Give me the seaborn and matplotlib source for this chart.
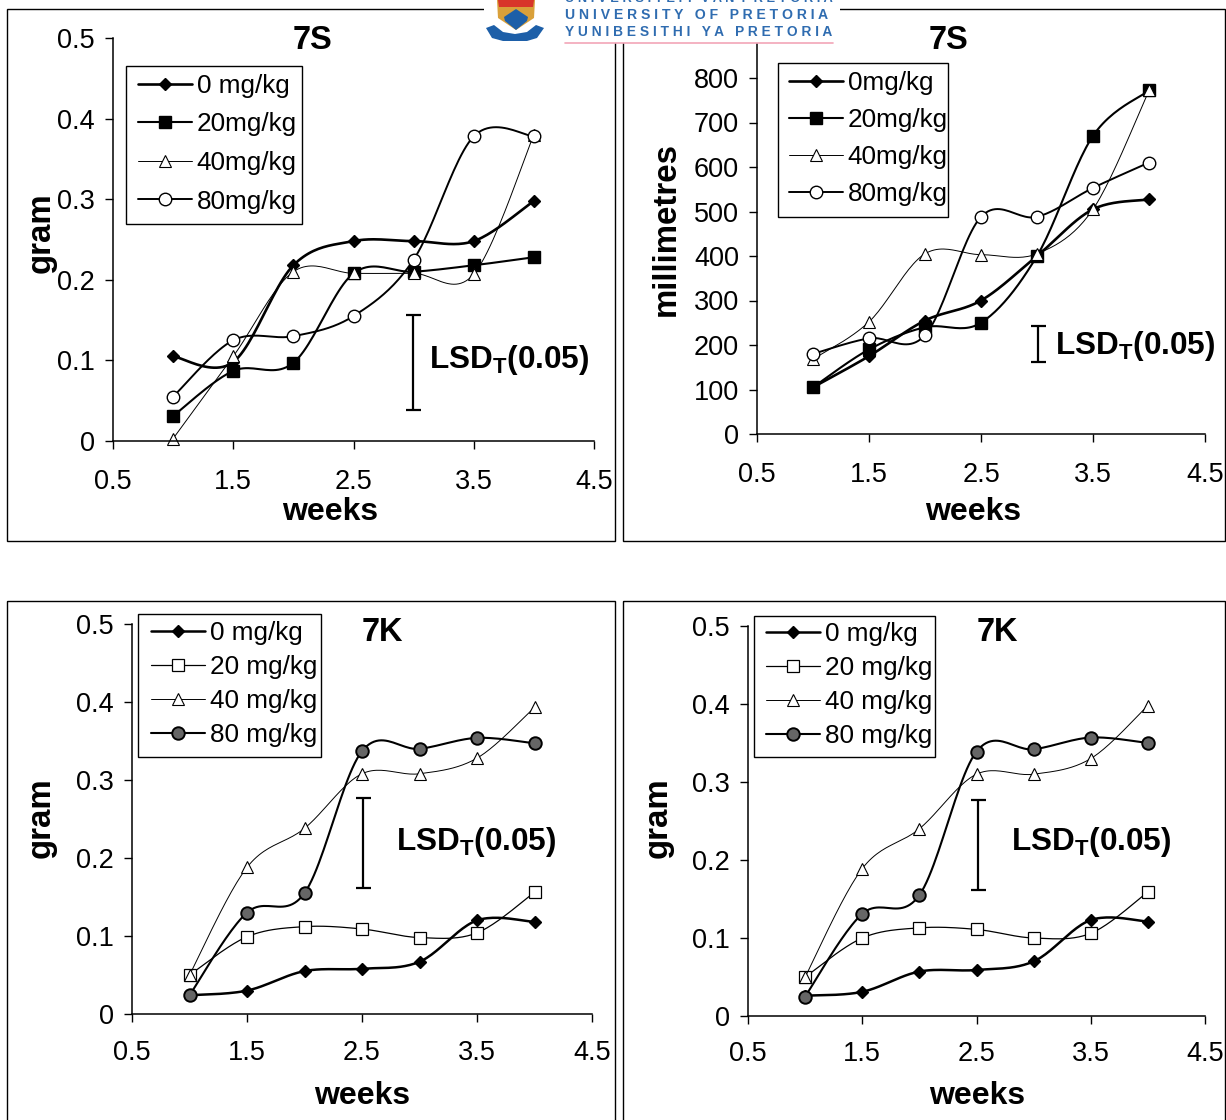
import numpy as np
import pandas as pd
import matplotlib
matplotlib.use("Agg")
import matplotlib.pyplot as plt
from matplotlib.lines import Line2D
from matplotlib.patches import Rectangle, Polygon
import seaborn as sns

weeks = [1, 1.5, 2, 2.5, 3, 3.5, 4]

a_0 = [.105, .098, .218, .248, .248, .248, .298]
a_20 = [.031, .087, .097, .208, .21, .218, .228]
a_40 = [.003, .105, .21, .208, .208, .207, .38]
a_80 = [.055, .125, .13, .155, .225, .378, .378]

b_0 = [105, 175, 255, 300, 400, 505, 527]
b_20 = [105, 190, 240, 250, 400, 670, 772]
b_40 = [168, 252, 405, 403, 405, 505, 772]
b_80 = [180, 215, 222, 488, 488, 553, 610]

c_0 = [.024, .03, .055, .058, .067, .12, .118]
c_20 = [.05, .099, .112, .109, .098, .104, .156]
c_40 = [.05, .188, .238, .308, .308, .328, .393]
c_80 = [.024, .13, .155, .337, .34, .354, .347]

d_0 = [.026, .031, .057, .059, .07, .123, .121]
d_20 = [.05, .1, .113, .111, .1, .106, .159]
d_40 = [.05, .189, .24, .31, .31, .33, .398]
d_80 = [.025, .131, .155, .339, .342, .357, .35]

labels_a = ["0 mg/kg", "20mg/kg", "40mg/kg", "80mg/kg"]
labels_b = ["0mg/kg", "20mg/kg", "40mg/kg", "80mg/kg"]
labels_c = ["0 mg/kg", "20 mg/kg", "40 mg/kg", "80 mg/kg"]

xticks = [0.5, 1.5, 2.5, 3.5, 4.5]
yticks_g = [0, 0.1, 0.2, 0.3, 0.4, 0.5]
yticks_mm = [0, 100, 200, 300, 400, 500, 600, 700, 800]

W, H = 1226, 1120
sns.set_style("white")
plt.rcParams["font.family"] = ["Liberation Sans", "DejaVu Sans"]
plt.rcParams["mathtext.fontset"] = "custom"
plt.rcParams["mathtext.bf"] = "Liberation Sans:bold"
plt.rcParams["mathtext.rm"] = "Liberation Sans"

fig = plt.figure(figsize=(W / 100, H / 100), dpi=100, facecolor="white")
bg = fig.add_axes([0, 0, 1, 1], zorder=0)
bg.set_xlim(0, W)
bg.set_ylim(H, 0)
bg.axis("off")
top = fig.add_axes([0, 0, 1, 1], zorder=10)
top.set_xlim(0, W)
top.set_ylim(H, 0)
top.axis("off")
top.patch.set_alpha(0)


def fx(x):
    return x / W


def fy(y):
    return 1 - y / H


def smooth(xs, ys, n=24):
    """Excel-style smoothed line between the read values, for drawing only."""
    p = np.column_stack([xs, ys]).astype(float)
    q = np.vstack([p[0], p, p[-1]])
    out = []
    for i in range(1, len(q) - 2):
        p0, p1, p2, p3 = q[i - 1], q[i], q[i + 1], q[i + 2]
        c1 = p1 + (p2 - p0) / 6
        c2 = p2 - (p3 - p1) / 6
        t = np.linspace(0, 1, n, endpoint=False)[:, None]
        out.append((1 - t) ** 3 * p1 + 3 * (1 - t) ** 2 * t * c1 + 3 * (1 - t) * t ** 2 * c2 + t ** 3 * p2)
    out.append(p[-1:])
    return np.vstack(out)


STYLE_A = [("D", "k", 1.9, 6.5, 1.0), ("s", "k", 1.5, 9, 1.0), ("^", "white", 0.7, 9, 0.8), ("o", "white", 1.4, 9, 1.0)]
STYLE_C = [("D", "k", 1.8, 6.5, 1.0), ("s", "white", 0.9, 9, 0.9), ("^", "white", 0.7, 9, 0.8), ("o", "#666666", 1.5, 9, 1.4)]


def panel(box, ylim, yticks, ylabels, series, labels, styles, title, title_xy,
          xlabel_xy, ylabel_text, ylabel_xy, legend_box, legend_first, legend_space,
          lsd, lsd_text_xy, xpad):
    x0, x1, ytop, ybot = box
    ax = fig.add_axes([fx(x0), fy(ybot), (x1 - x0) / W, (ybot - ytop) / H], zorder=2)
    ax.patch.set_alpha(0)
    for vals, (m, fc, lw, ms, mew) in zip(series, styles):
        curve = smooth(weeks, vals)
        frame = pd.DataFrame({"week": curve[:, 0], "value": curve[:, 1]})
        sns.lineplot(data=frame, x="week", y="value", sort=False, estimator=None,
                     color="k", lw=lw, ax=ax, clip_on=False)
        points = pd.DataFrame({"week": weeks, "value": vals})
        sns.lineplot(data=points, x="week", y="value", estimator=None, sort=False, ax=ax,
                     color="k", linestyle="none", marker=m, markersize=ms,
                     markerfacecolor=fc, markeredgecolor="k", markeredgewidth=mew, clip_on=False)
    ax.set_xlim(0.5, 4.5)
    ax.set_ylim(*ylim)
    sns.despine(ax=ax)
    for s in ("left", "bottom"):
        ax.spines[s].set_linewidth(1.1)
        ax.spines[s].set_color("k")
    ax.set_xticks(xticks)
    ax.set_yticks(yticks)
    ax.set_yticklabels(ylabels)
    ax.tick_params(axis="both", labelsize=19.5, length=6, width=1.0, color="k", labelcolor="k",
                   left=True, bottom=True, direction="out")
    ax.tick_params(axis="x", pad=xpad)
    ax.tick_params(axis="y", pad=7)
    ax.set_xlabel("weeks", fontsize=23, fontweight="bold", color="k", va="center")
    ax.xaxis.set_label_coords(fx(xlabel_xy[0]), fy(xlabel_xy[1] + 2.5), transform=fig.transFigure)
    ax.set_ylabel(ylabel_text, fontsize=23.8, fontweight="bold", color="k", va="center")
    ax.yaxis.set_label_coords(fx(ylabel_xy[0]), fy(ylabel_xy[1]), transform=fig.transFigure)
    fig.text(fx(title_xy[0]), fy(title_xy[1] + 2.5), title, fontsize=23.5, fontweight="bold",
             ha="center", va="center", color="k", zorder=3)
    # least significant difference bar
    xb, lo, hi = lsd
    ax.errorbar([xb], [(lo + hi) / 2], yerr=[(hi - lo) / 2], color="k", lw=1.6, capsize=5.4,
                capthick=1.6, clip_on=False)
    fig.text(fx(lsd_text_xy[0] - 1), fy(lsd_text_xy[1] + 1), r"LSD$_{\mathbf{T}}$(0.05)", fontsize=22.7,
             fontweight="bold", ha="left", va="center", color="k", zorder=3)
    # legend frame at its measured size, entries placed inside it
    lx0, lx1, ly0, ly1 = legend_box
    ax.add_patch(Rectangle((fx(lx0), fy(ly1)), (lx1 - lx0) / W, (ly1 - ly0) / H, transform=fig.transFigure,
                           fc="white", ec="k", lw=1.0, zorder=4, clip_on=False))
    handles = [Line2D([], [], color="k", lw=lw, marker=m, markersize=ms,
                      markerfacecolor=fc, markeredgecolor="k", markeredgewidth=mew)
               for (m, fc, lw, ms, mew) in styles]
    fs_px = 18.8 / 0.72
    leg = ax.legend(handles, labels, loc="upper left",
                    bbox_to_anchor=(fx(legend_first[0]), fy(legend_first[1] - 10)),
                    bbox_transform=fig.transFigure, fontsize=18.8, frameon=False,
                    borderaxespad=0, borderpad=0, handlelength=2.05,
                    handletextpad=0.2, labelspacing=(legend_space - 24) / fs_px, labelcolor="k")
    leg.set_zorder(5)
    return ax


def g_labels(ticks):
    return ["0" if t == 0 else f"{t:.1f}" for t in ticks]


panel((113, 594, 38, 441), (0, 0.5), yticks_g, g_labels(yticks_g), [a_0, a_20, a_40, a_80], labels_a, STYLE_A,
      "7S", (312, 38), (330, 509), "gram", (41, 233), (126, 302, 66, 224), (138, 84), 38.5,
      (2.995, .038, .156), (430, 359), 14)
panel((757, 1205, 33.5, 434), (0, 900), yticks_mm, [str(t) for t in yticks_mm], [b_0, b_20, b_40, b_80], labels_b, STYLE_A,
      "7S", (948, 38), (973, 509), "millimetres", (666, 229), (778, 948, 63, 217), (789, 81), 37,
      (3.01, 162, 243), (1056, 345), 14)
panel((132, 592, 624, 1014), (0, 0.5), yticks_g, g_labels(yticks_g), [c_0, c_20, c_40, c_80], labels_c, STYLE_C,
      "7K", (382, 630), (362, 1094), "gram", (41, 818), (138, 321, 614, 757), (151, 631), 34,
      (2.51, .161, .277), (397, 841), 13)
panel((748, 1205, 626, 1016), (0, 0.5), yticks_g, g_labels(yticks_g), [d_0, d_20, d_40, d_80], labels_c, STYLE_C,
      "7K", (997, 630), (977, 1094), "gram", (658, 818), (754, 935, 616, 757), (766, 632), 34,
      (2.51, .161, .277), (1012, 841), 12)

# panel frames
for (x0, y0, x1, y1) in [(7, 9, 615, 541), (623, 9, 1225, 541), (7, 601, 615, 1130), (623, 601, 1225, 1130)]:
    bg.add_patch(Rectangle((x0, y0), x1 - x0, y1 - y0, fill=False, ec="k", lw=1.0))

# university banner laid over the top edge
top.add_patch(Rectangle((484, -2), 356, 45, fc="white", ec="none"))
top.plot([565, 833], [43, 43], color="#f2a6b8", lw=1.2)
top.add_patch(Polygon([(497, 0), (535, 0), (534, 18), (516, 30), (498, 18)], fc="#d9a03a", ec="none"))
top.add_patch(Polygon([(498, 0), (534, 0), (533, 7), (499, 7)], fc="#d8352a", ec="none"))
top.add_patch(Polygon([(504, 17), (516, 9), (528, 17), (527, 21), (516, 30), (505, 21)], fc="#1d5fa8", ec="none"))
top.add_patch(Polygon([(486, 28), (494, 25), (503, 32), (515, 34), (527, 32), (536, 25), (544, 28),
                       (537, 38), (527, 41), (503, 41), (492, 38)], fc="#1d5fa8", ec="none"))
blue = "#2f6cb0"
for txt, y, fs in [("U N I V E R S I T E I T  V A N  P R E T O R I A", -1, 9.3),
                   ("U N I V E R S I T Y   O F   P R E T O R I A", 15, 10.1),
                   ("Y U N I B E S I T H I   Y A   P R E T O R I A", 32, 9.9)]:
    top.text(565, y, txt, fontsize=fs, fontweight="bold", color=blue, ha="left", va="center", clip_on=True)

fig.savefig("out.png", dpi=100, facecolor="white")
